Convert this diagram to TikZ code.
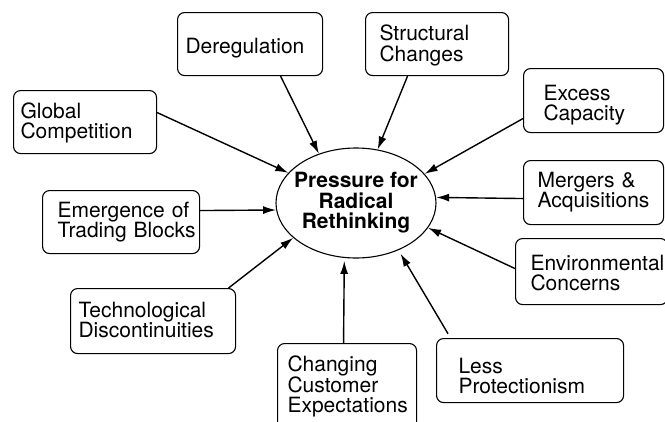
\documentclass[tikz,border=0pt]{standalone}
\usepackage{fontspec}
\setmainfont{TeX Gyre Heros}
\usetikzlibrary{shapes.geometric,arrows.meta}
\hyphenpenalty=10000

\tikzset{
  factor/.style={draw, rounded corners=7pt, line width=1.1pt, align=left,
    inner ysep=0pt, text height=20pt, font=\fontsize{21}{20.5}\selectfont},
  core/.style={draw, ellipse, line width=1.1pt, align=center, inner xsep=-8pt,
    inner ysep=0pt, minimum width=160pt, minimum height=110pt,
    font=\fontsize{21}{20.5}\selectfont\bfseries},
  push/.style={line width=1.4pt, -{Latex[length=13pt,width=8pt]}},
}

\begin{document}
\begin{tikzpicture}[x=1pt,y=1pt]
  \useasboundingbox (0,0) rectangle (665,-421);
  \node[core] (press) at (356,-203) {Pressure for\\Radical\\Rethinking};
  \foreach \id/\bx/\by/\bw/\bh/\pad/\off/\txt in {
      glob/13/90/143/63/7/-4/{Global\\Competition},
      dereg/177/12/145/63/8/9.5/{Deregulation},
      struct/365/12/143/63/14/-3.5/{Structural\\Changes},
      excess/523/68/140/64/20/-0.5/{Excess\\Capacity},
      merg/523/160/140/64/14/-5.5/{Mergers~\&\\Acquisitions},
      emerg/42/190/157/63/15/-5/{Emergence~of\\Trading~Blocks},
      tech/70/288/165/65/8/-4/{Technological\\Discontinuities},
      env/515/238/152/66/15/-1.5/{Environmental\\Concerns},
      chang/277/343/139/88/10/-16/{Changing\\Customer\\Expectations},
      less/436/338/187/64/22/2.5/{Less\\Protectionism}}{
    \node[factor, anchor=north west, minimum height=\bh pt, inner xsep=\pad pt,
      text width={(\bw-2*\pad)*1pt}, text depth={(20-2*(\off))*1pt}]
      (\id) at (\bx,-\by) {\txt};
  }
  \draw[push] ([yshift=9.5pt]glob.east) -- (press.156);
  \draw[push] ([xshift=30.5pt]dereg.south) -- (press.127);
  \draw[push] ([xshift=-29.5pt]struct.south) -- (press.68);
  \draw[push] ([yshift=-18pt]excess.west) -- (press.23);
  \draw[push] ([yshift=-6pt]merg.west) -- (press.4);
  \draw[push] ([yshift=11.5pt]emerg.east) -- (press.185);
  \draw[push] ([xshift=75.5pt]tech.north) -- (press.209);
  \draw[push] ([yshift=3pt]env.west) -- (press.341);
  \draw[push, shorten >=3pt] ([xshift=-3.5pt]chang.north) -- (press.258);
  \draw[push, shorten <=5pt, shorten >=4pt] ([xshift=-79.5pt]less.north) -- (press.312);
\end{tikzpicture}
\end{document}
